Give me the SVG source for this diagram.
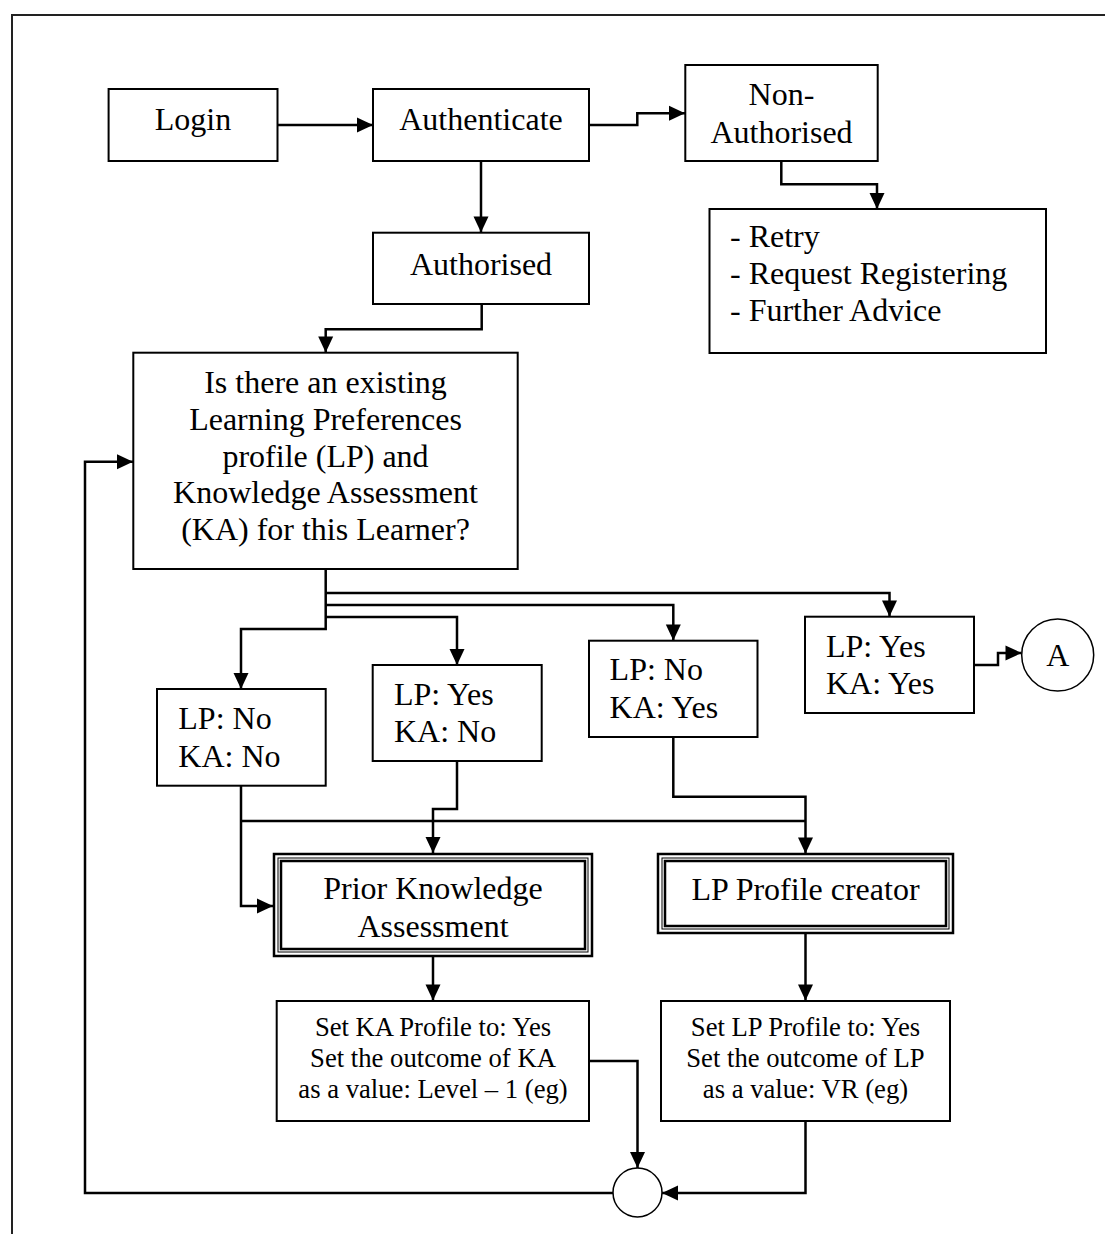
<svg xmlns="http://www.w3.org/2000/svg" width="1105" height="1234" viewBox="0 0 1105 1234">
<style>
.box{fill:#fff;stroke:#000;stroke-width:2}
.thk{fill:none;stroke:#000;stroke-width:2.5}
.thn{fill:none;stroke:#000;stroke-width:1}
.c{fill:none;stroke:#000;stroke-width:2.5}
.t{font-family:"Liberation Serif","Times New Roman",serif;font-size:32px;fill:#000}
.s{font-family:"Liberation Serif","Times New Roman",serif;font-size:26.67px;fill:#000}
.m{text-anchor:middle}
</style>
<defs>
<marker id="ah" markerUnits="userSpaceOnUse" markerWidth="16" markerHeight="15" refX="16" refY="7.5" orient="auto" overflow="visible">
<path d="M0,0 L16,7.5 L0,15 Z" fill="#000"/>
</marker>
</defs>
<rect width="1105" height="1234" fill="#fff"/>
<path d="M12,1234 V15 H1105" fill="none" stroke="#222" stroke-width="2"/>

<g id="connectors">
<path class="c" d="M277.5,125 H373" marker-end="url(#ah)"/>
<path class="c" d="M589,125 H637.3 V113.3 H685" marker-end="url(#ah)"/>
<path class="c" d="M781.3,161 V184.3 H877 V209" marker-end="url(#ah)"/>
<path class="c" d="M481,161 V232.5" marker-end="url(#ah)"/>
<path class="c" d="M481.7,304 V329.3 H325.7 V352.5" marker-end="url(#ah)"/>
<path class="c" d="M325.7,569 V629 H241 V689" marker-end="url(#ah)"/>
<path class="c" d="M325.7,617 H457 V665" marker-end="url(#ah)"/>
<path class="c" d="M325.7,605 H673.3 V640.5" marker-end="url(#ah)"/>
<path class="c" d="M325.7,593 H889.5 V616.5" marker-end="url(#ah)"/>
<path class="c" d="M974,665 H998 V653 H1021.5" marker-end="url(#ah)"/>
<path class="c" d="M241,785.7 V906 H273" marker-end="url(#ah)"/>
<path class="c" d="M241,821 H805.5"/>
<path class="c" d="M457,761 V809 H433 V853" marker-end="url(#ah)"/>
<path class="c" d="M673.3,737 V796.7 H805.5 V853.5" marker-end="url(#ah)"/>
<path class="c" d="M433,957 V1000.5" marker-end="url(#ah)"/>
<path class="c" d="M805.5,933.5 V1000.5" marker-end="url(#ah)"/>
<path class="c" d="M589,1061 H637.5 V1168" marker-end="url(#ah)"/>
<path class="c" d="M805.5,1121 V1193 H662" marker-end="url(#ah)"/>
<path class="c" d="M613,1193 H85 V461.7 H133" marker-end="url(#ah)"/>
</g>

<g id="login">
<rect class="box" x="108.6" y="89" width="168.9" height="72"/>
<text class="t m" x="193" y="130">Login</text>
</g>
<g id="authenticate">
<rect class="box" x="373" y="89" width="216" height="72"/>
<text class="t m" x="481" y="130">Authenticate</text>
</g>
<g id="non-authorised">
<rect class="box" x="685.3" y="65" width="192.4" height="96"/>
<text class="t m" x="781.5" y="105">Non-</text>
<text class="t m" x="781.5" y="142.5">Authorised</text>
</g>
<g id="options">
<rect class="box" x="709.5" y="209" width="336.5" height="144"/>
<text class="t" x="730" y="247">- Retry</text>
<text class="t" x="730" y="284">- Request Registering</text>
<text class="t" x="730" y="321">- Further Advice</text>
</g>
<g id="authorised">
<rect class="box" x="373" y="232.7" width="216" height="71.3"/>
<text class="t m" x="481" y="275">Authorised</text>
</g>
<g id="question">
<rect class="box" x="133.3" y="352.7" width="384.4" height="216.3"/>
<text class="t m" x="325.5" y="393.3">Is there an existing</text>
<text class="t m" x="325.5" y="430">Learning Preferences</text>
<text class="t m" x="325.5" y="466.7">profile (LP) and</text>
<text class="t m" x="325.5" y="503.3">Knowledge Assessment</text>
<text class="t m" x="325.5" y="540">(KA) for this Learner?</text>
</g>
<g id="lpno-kano">
<rect class="box" x="157" y="689" width="168.7" height="96.7"/>
<text class="t" x="178.3" y="729">LP: No</text>
<text class="t" x="178.3" y="766.5">KA: No</text>
</g>
<g id="lpyes-kano">
<rect class="box" x="372.7" y="665" width="169" height="96"/>
<text class="t" x="394" y="705">LP: Yes</text>
<text class="t" x="394" y="742">KA: No</text>
</g>
<g id="lpno-kayes">
<rect class="box" x="589" y="640.7" width="168.5" height="96.3"/>
<text class="t" x="609.6" y="680">LP: No</text>
<text class="t" x="609.6" y="717.5">KA: Yes</text>
</g>
<g id="lpyes-kayes">
<rect class="box" x="805" y="616.7" width="169" height="96.3"/>
<text class="t" x="826" y="656.7">LP: Yes</text>
<text class="t" x="826" y="694">KA: Yes</text>
</g>
<g id="connector-a">
<circle cx="1057.7" cy="655" r="36" fill="#fff" stroke="#000" stroke-width="1.5"/>
<text class="t m" x="1057.7" y="666">A</text>
</g>
<g id="prior-knowledge">
<rect x="274" y="854" width="318" height="102" fill="#fff" stroke="none"/>
<rect class="thk" x="274" y="854" width="318" height="102"/>
<rect class="thn" x="278" y="858" width="310" height="94"/>
<rect class="thk" x="281" y="861" width="304" height="88"/>
<text class="t m" x="433" y="899.3">Prior Knowledge</text>
<text class="t m" x="433" y="936.7">Assessment</text>
</g>
<g id="lp-profile-creator">
<rect x="658" y="854" width="295" height="79" fill="#fff" stroke="none"/>
<rect class="thk" x="658" y="854" width="295" height="79"/>
<rect class="thn" x="662" y="858" width="287" height="71"/>
<rect class="thk" x="665" y="861" width="281" height="65"/>
<text class="t m" x="805.5" y="900">LP Profile creator</text>
</g>
<g id="set-ka">
<rect class="box" x="276.7" y="1001" width="312.3" height="120"/>
<text class="s m" x="433" y="1036">Set KA Profile to: Yes</text>
<text class="s m" x="433" y="1067">Set the outcome of KA</text>
<text class="s m" x="433" y="1098">as a value: Level – 1 (eg)</text>
</g>
<g id="set-lp">
<rect class="box" x="661" y="1001" width="289" height="120"/>
<text class="s m" x="805.5" y="1036">Set LP Profile to: Yes</text>
<text class="s m" x="805.5" y="1067">Set the outcome of LP</text>
<text class="s m" x="805.5" y="1098">as a value: VR (eg)</text>
</g>
<g id="join">
<circle cx="637.5" cy="1192.5" r="24.5" fill="#fff" stroke="#000" stroke-width="1.5"/>
</g>
</svg>
